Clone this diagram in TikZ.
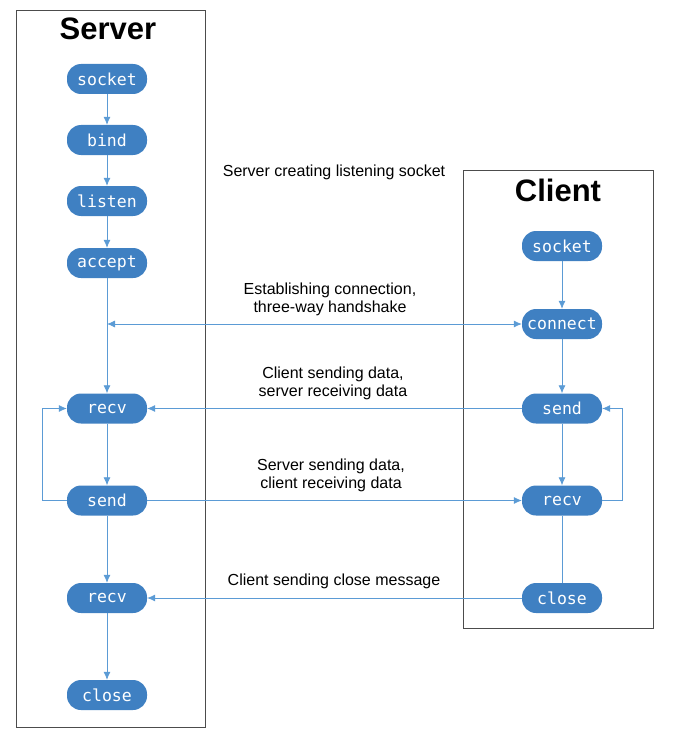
\documentclass[tikz,border=0pt]{standalone}
\usepackage{fontspec}
\setmainfont{Liberation Sans}
\setmonofont{DejaVu Sans Mono}
\usetikzlibrary{arrows.meta}
\definecolor{nodeblue}{HTML}{3F80C2}
\definecolor{lineblue}{HTML}{5B9BD5}
\begin{document}
\begin{tikzpicture}[x=1pt,y=-1pt]
                \useasboundingbox (0,0) rectangle (676,741);
                \draw[black!70, semithick] (16,10) rectangle (205,727);
                \draw[black!70, semithick] (463,170) rectangle (653,628);

                \begin{scope}[every node/.style={font=\bfseries\fontsize{31}{31}\selectfont}]
                    \node (srv) at (108,29) {Server};
                    \node (cli) at (558,190) {Client};
                \end{scope}

                \begin{scope}[every node/.style={fill=nodeblue,text=white,rounded corners=14pt,
                            minimum width=80pt,minimum height=30pt,inner sep=0pt,
                            font=\ttfamily\fontsize{16.5}{17}\selectfont}]
                    \node (Ssocket) at (107,79) {socket};
                    \node (Sbind) at (107,140) {bind};
                    \node (Slisten) at (107,201) {listen};
                    \node (Saccept) at (107,263) {accept};
                    \node (Srecv) at (107,408.5) {recv};
                    \node (Ssend) at (107,500.5) {send};
                    \node (Srecvb) at (107,598) {recv};
                    \node (Sclose) at (107,695) {close};
                    \node (Csocket) at (562,246) {socket};
                    \node (Cconnect) at (562,324) {connect};
                    \node (Csend) at (562,408.5) {send};
                    \node (Crecv) at (562,500.5) {recv};
                    \node (Cclose) at (562,598) {close};
                \end{scope}

                \begin{scope}[every node/.style={align=center,font=\fontsize{16}{18}\selectfont}]
                    \node (lblListen) at (334,172) {Server creating listening socket};
                    \node (lblConnect) at (330,299) {Establishing connection,\\three-way handshake};
                    \node (lblCsend) at (333,383) {Client sending data,\\server receiving data};
                    \node (lblSsend) at (331,475) {Server sending data,\\client receiving data};
                    \node (lblClose) at (334,581) {Client sending close message};
                \end{scope}

                \coordinate (hs) at (107,324);
                \coordinate (SloopA) at (42,500.5);
                \coordinate (SloopB) at (42,408.5);
                \coordinate (CloopA) at (622,500.5);
                \coordinate (CloopB) at (622,408.5);

                \begin{scope}[every edge/.style={draw=lineblue,thick,-{Latex[length=8pt,width=7pt]}}]
                    \path (Ssocket) edge (Sbind);
                    \path (Sbind) edge (Slisten);
                    \path (Slisten) edge (Saccept);
                    \path (Saccept) edge (Srecv);
                    \path (Srecv) edge (Ssend);
                    \path (Ssend) edge (Srecvb);
                    \path (Srecvb) edge (Sclose);
                    \path (Csocket) edge (Cconnect);
                    \path (Cconnect) edge (Csend);
                    \path (Csend) edge (Crecv);
                    \path (Crecv) edge[-] (Cclose);
                    \path (hs) edge[{Latex[length=8pt,width=7pt]}-{Latex[length=8pt,width=7pt]}] (Cconnect);
                    \path (Csend) edge (Srecv);
                    \path (Ssend) edge (Crecv);
                    \path (Cclose) edge (Srecvb);
                \end{scope}

                \draw[lineblue,thick,-{Latex[length=8pt,width=7pt]}] (Ssend.west) -- (SloopA) -- (SloopB) -- (Srecv.west);
                \draw[lineblue,thick,-{Latex[length=8pt,width=7pt]}] (Crecv.east) -- (CloopA) -- (CloopB) -- (Csend.east);
            \end{tikzpicture}
\end{document}
